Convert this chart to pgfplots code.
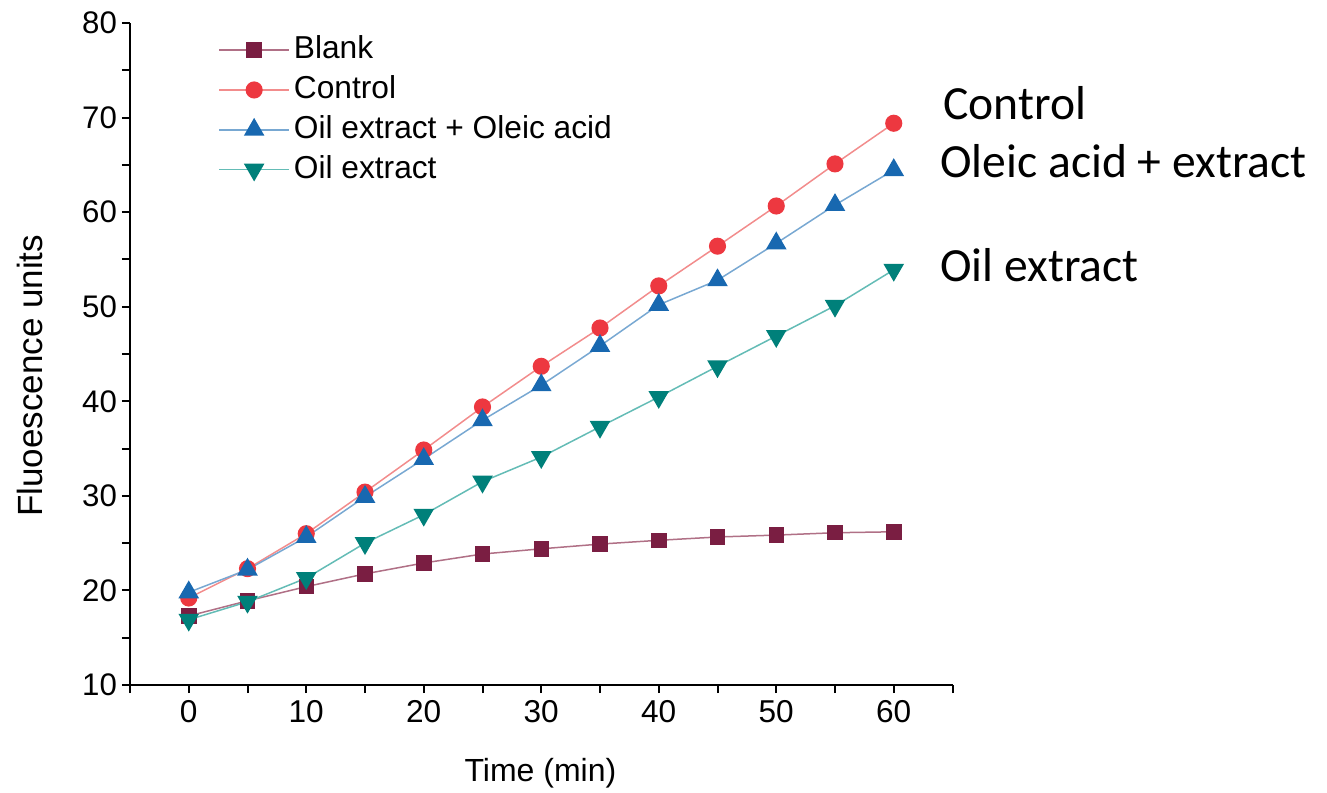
\documentclass[border=0pt]{standalone}
\usepackage{fontspec}
\setmainfont{Liberation Sans}
\newfontfamily\calibri{Carlito}
\usepackage{pgfplots}
\pgfplotsset{compat=1.18}

\definecolor{blankM}{RGB}{122,30,66}
\definecolor{blankL}{RGB}{176,112,134}
\definecolor{ctrlM}{RGB}{237,56,64}
\definecolor{ctrlL}{RGB}{242,140,140}
\definecolor{oleM}{RGB}{24,104,176}
\definecolor{oleL}{RGB}{120,168,210}
\definecolor{oilM}{RGB}{0,128,122}
\definecolor{oilL}{RGB}{100,188,182}

\begin{document}
\begin{tikzpicture}
\path[use as bounding box] (0,0) rectangle (663.5pt,396pt);
\begin{axis}[
  at={(65pt,53.5pt)}, anchor=south west,
  x=5.875pt, y=4.7285pt,
  xmin=-5, xmax=65, ymin=10, ymax=80,
  axis lines*=left,
  axis line style={line width=1pt, black},
  tick align=outside,
  tick style={line width=1pt, black},
  major tick length=4pt, minor tick length=4pt,
  xtick={0,10,...,60}, minor xtick={-5,5,...,65},
  ytick={10,20,...,80}, minor ytick={15,25,...,75},
  /pgf/number format/assume math mode=true,
  xticklabel style={font=\fontsize{15.8}{18}\selectfont},
  yticklabel style={font=\fontsize{15.6}{18}\selectfont, xshift=1pt},
  xlabel={Time (min)},
  ylabel={Fluoescence units},
  every axis x label/.style={at={(rel axis cs:0.499,-0.133)}, anchor=center, font=\fontsize{16}{19}\selectfont},
  every axis y label/.style={at={(rel axis cs:-0.1216,0.467)}, rotate=90, anchor=center, font=\fontsize{17.5}{20}\selectfont},
  legend style={at={(rel axis cs:0.107,0.986)}, anchor=north west, draw=none, fill=none,
    inner sep=0pt, font=\fontsize{15.85}{18}\selectfont,
    nodes={inner sep=2pt, text height=11pt, text depth=2.5pt}, row sep=2.4pt},
  legend cell align=left,
  legend image code/.code={\draw[mark repeat=2,mark phase=2] plot coordinates {(0pt,0pt) (17.5pt,0pt) (35pt,0pt)};},
  every axis plot/.append style={line width=0.75pt},
]
% Blank
\addplot[color=blankL, mark=square*, mark size=3.5pt, mark options={fill=blankM, draw=blankM}]
  coordinates {(0,17.3)(5,18.9)(10,20.4)(15,21.75)(20,22.9)(25,23.85)(30,24.4)(35,24.9)(40,25.3)(45,25.65)(50,25.85)(55,26.1)(60,26.2)};
\addlegendentry{Blank}
% Control
\addplot[color=ctrlL, mark=*, mark size=3.9pt, mark options={fill=ctrlM, draw=ctrlM}]
  coordinates {(0,19.2)(5,22.3)(10,26.0)(15,30.4)(20,34.85)(25,39.4)(30,43.7)(35,47.75)(40,52.2)(45,56.4)(50,60.65)(55,65.1)(60,69.4)};
\addlegendentry{Control}
% Oil extract + oleic acid
\addplot[color=oleL, mark=triangle*, mark size=5.2pt, mark options={fill=oleM, draw=oleM}]
  coordinates {(0,19.8)(5,22.2)(10,25.65)(15,29.9)(20,33.9)(25,38.0)(30,41.7)(35,45.85)(40,50.2)(45,52.8)(50,56.7)(55,60.75)(60,64.45)};
\addlegendentry{Oil extract + Oleic acid}
% Oil extract
\addplot[color=oilL, mark=triangle*, mark size=5.2pt, mark options={fill=oilM, draw=oilM, rotate=180}]
  coordinates {(0,16.9)(5,18.8)(10,21.3)(15,25.0)(20,28.0)(25,31.5)(30,34.1)(35,37.3)(40,40.45)(45,43.7)(50,46.9)(55,50.1)(60,53.9)};
\addlegendentry{Oil extract}
\end{axis}
\node[anchor=base west, inner sep=0pt, font=\calibri\fontsize{23.8}{28}\selectfont] at (471.5pt,336pt) {Control};
\node[anchor=base west, inner sep=0pt, font=\calibri\fontsize{23.8}{28}\selectfont] at (470pt,307pt) {Oleic acid + extract};
\node[anchor=base west, inner sep=0pt, font=\calibri\fontsize{23.8}{28}\selectfont] at (470pt,255pt) {Oil extract};
\end{tikzpicture}
\end{document}
